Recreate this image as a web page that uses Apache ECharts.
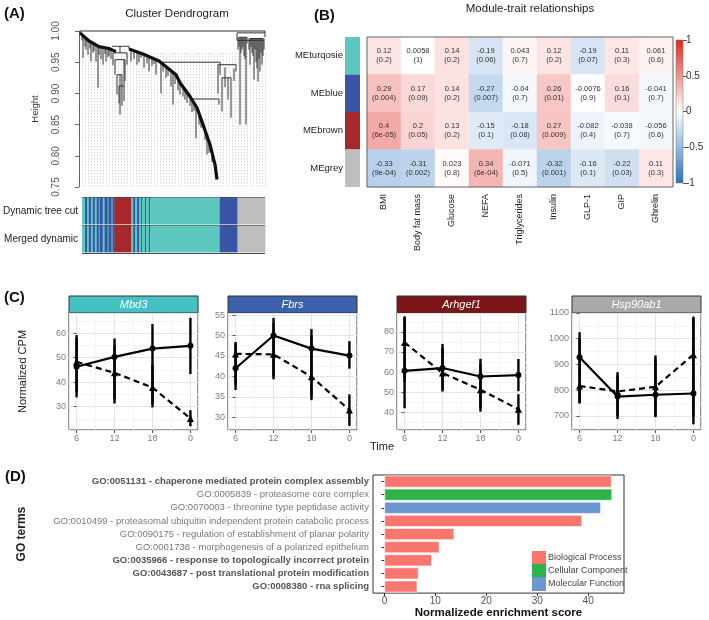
<!DOCTYPE html>
<html><head><meta charset="utf-8">
<script src="https://cdn.jsdelivr.net/npm/echarts@6/dist/echarts.min.js"></script>
<style>html,body{margin:0;padding:0;background:#fff}#c{width:709px;height:620px}</style>
</head><body><div id="c"></div>
<script>
// ================= Panel A: dendrogram (leaf position units 0..186, height) =================
const dendroSpines = [
  [[1,0.997],[10,0.984],[20,0.975],[30,0.972],[37,0.967]],
  [[50,0.971],[64,0.963],[80,0.952],[97,0.930],[101,0.917],[111,0.895],[118,0.877],[124,0.850],[131,0.818],[136,0.786],[138,0.762]]
];
// [x1, x2, height]
const dendroLinks = [
  [1,186,1.0],[33,50,0.9755],[34,48,0.965],[36,46,0.954],[38,43,0.930],[40,45,0.912],
  [80,141,0.950],[139,157,0.946],[143,152,0.925],[112,140,0.891],[158,186,0.997],[160,168,0.990],[171,184,0.988],[158,185,0.985]
];
// [x, topHeight, bottomHeight]
const dendroDrops = [
  [1,1.0,0.997],[186,1.0,0.997],
  [3,0.994,0.985],[4,0.993,0.957],[6,0.990,0.975],[7,0.989,0.970],[9,0.986,0.962],[11,0.983,0.972],[12,0.983,0.951],
  [14,0.981,0.965],[15,0.980,0.968],[17,0.978,0.951],[19,0.976,0.909],[20,0.975,0.962],
  [22,0.975,0.955],[24,0.974,0.946],[26,0.973,0.963],[27,0.973,0.951],[29,0.972,0.958],[30,0.972,0.960],[32,0.971,0.955],
  [41,0.9755,0.965],[34,0.965,0.945],[48,0.965,0.946],[36,0.954,0.930],[38,0.930,0.898],[41,0.930,0.866],
  [43,0.930,0.880],[40,0.912,0.884],[45,0.954,0.888],[46,0.954,0.920],
  [50,0.9755,0.971],[52,0.970,0.951],[55,0.968,0.955],[58,0.966,0.946],[60,0.965,0.950],[62,0.964,0.957],
  [65,0.962,0.941],[68,0.961,0.948],[70,0.959,0.935],[73,0.957,0.944],[75,0.956,0.947],[77,0.954,0.930],
  [82,0.950,0.900],[84,0.948,0.935],[87,0.945,0.925],[89,0.942,0.928],[92,0.939,0.911],[94,0.935,0.882],
  [96,0.932,0.915],[99,0.925,0.905],[101,0.917,0.898],[104,0.911,0.895],[106,0.905,0.890],[108,0.902,0.885],
  [111,0.895,0.880],[113,0.891,0.870],[115,0.885,0.872],[117,0.879,0.828],[120,0.870,0.850],[122,0.862,0.845],
  [126,0.843,0.825],[128,0.834,0.802],[130,0.823,0.805],[133,0.806,0.790],[140,0.891,0.882],
  [141,0.950,0.946],[139,0.946,0.900],[141,0.946,0.930],[143,0.925,0.871],[146,0.942,0.910],[149,0.925,0.890],
  [152,0.925,0.861],[155,0.940,0.920],[157,0.946,0.935],
  [158,0.997,0.985],[159,0.990,0.970],[160,0.990,0.975],[161,0.990,0.850],[162,0.990,0.965],[163,0.990,0.970],
  [164,0.990,0.975],[165,0.990,0.960],[166,0.990,0.955],[167,0.990,0.850],[168,0.990,0.980],[170,0.988,0.970],
  [171,0.988,0.946],[172,0.988,0.975],[173,0.988,0.965],[174,0.988,0.960],[175,0.988,0.922],[176,0.988,0.970],
  [177,0.988,0.950],[178,0.988,0.940],[179,0.988,0.919],[180,0.988,0.955],[181,0.988,0.935],[182,0.988,0.965],
  [183,0.988,0.946],[184,0.988,0.960],[185,0.988,0.970],[186,0.997,0.990]
];
// module colour bar segments [start, end, colourIndex]  0=turquoise 1=blue 2=brown 3=grey
const stripeSegments = [
  [0,3,0],[3,5,1],[5,7,0],[7,9,1],[9,11,0],[11,13,1],[13,15,0],[15,17,1],[17,18,0],[18,21,1],[21,23,0],[23,26,1],[26,27,0],[27,30,1],[30,31,0],[31,33,1],
  [33,50,2],
  [50,52,0],[52,54,1],[54,56,0],[56,58,1],[58,60,0],[60,61,1],[61,64,0],[64,65,1],[65,68,0],[68,69,1],[69,71,0],
  [71,140,0],[140,158,1],[158,186,3]
];
const stripeRows = ['Dynamic tree cut','Merged dynamic'];
const moduleHex = ['#5ec8c0','#3a54a6','#a6282a','#bebebe'];

// ================= Panel B: module-trait heatmap =================
const traits = ['BMI','Body fat mass','Glucose','NEFA','Triglycerides','Insulin','GLP-1','GIP','Ghrelin'];
const modules = ['MEturqosie','MEblue','MEbrown','MEgrey'];
const moduleColors = ['#5ec8c0','#3a54a6','#a6282a','#bebebe'];
const corTurquoise = [0.12, 0.0058, 0.14, -0.19, 0.043, 0.12, -0.19, 0.11, 0.061];
const corBlue      = [0.29, 0.17, 0.14, -0.27, -0.04, 0.26, -0.0076, 0.16, -0.041];
const corBrown     = [0.4, 0.2, 0.13, -0.15, -0.18, 0.27, -0.082, -0.038, -0.056];
const corGrey      = [-0.33, -0.31, 0.023, 0.34, -0.071, -0.32, -0.16, -0.22, 0.11];
const pTurquoise = ['0.2','1','0.2','0.06','0.7','0.2','0.07','0.3','0.6'];
const pBlue      = ['0.004','0.09','0.2','0.007','0.7','0.01','0.9','0.1','0.7'];
const pBrown     = ['6e-05','0.05','0.2','0.1','0.08','0.009','0.4','0.7','0.6'];
const pGrey      = ['9e-04','0.002','0.8','6e-04','0.5','0.001','0.1','0.03','0.3'];
const colorbarRange = [-1, 1];

// ================= Panel C: expression profiles =================
const timeLabels = ['6','12','18','0'];
const genes = ['Mbd3','Fbrs','Arhgef1','Hsp90ab1'];
const mbd3Solid = [46.3, 50.3, 53.7, 54.8];
const mbd3SolidErr = [[33.8,59.2],[31.3,57.8],[29.7,63.7],[43.3,66.2]];
const mbd3Dashed = [48.3, 43.8, 37.8, 25.2];
const mbd3DashedErr = [[36,58],[33,55],[31,47],[22,28.6]];
const fbrsSolid = [42.0, 50.0, 46.8, 45.1];
const fbrsSolidErr = [[36.7,48.4],[39.3,54.3],[34.2,51.6],[41.9,48.6]];
const fbrsDashed = [45.5, 45.4, 39.9, 31.8];
const fbrsDashedErr = [[38,48],[40,53],[35,50],[27.9,35.6]];
const arhgef1Solid = [60.6, 62.0, 57.8, 58.5];
const arhgef1SolidErr = [[42,87.7],[50.3,74],[40.3,66.6],[50.5,66.5]];
const arhgef1Dashed = [74.7, 59.5, 51.2, 41.5];
const arhgef1DashedErr = [[55,87],[51,72],[42,64],[33.8,49]];
const hspSolid = [928, 775, 782, 787];
const hspSolidErr = [[748,1025],[688,870],[695,935],[667,1086]];
const hspDashed = [816, 795, 813, 938];
const hspDashedErr = [[750,1000],[700,860],[700,920],[700,1080]];
const stripColors = ['#45c1c3','#3d62ad','#7d1518','#a9a9a9'];

// ================= Panel D: GO enrichment =================
const goTerms = [
  'GO:0051131 - chaperone mediated protein complex assembly',
  'GO:0005839 - proteasome core complex',
  'GO:0070003 - threonine type peptidase activity',
  'GO:0010499 - proteasomal ubiquitin independent protein catabolic process',
  'GO:0090175 - regulation of establishment of planar polarity',
  'GO:0001738 - morphogenesis of a polarized epithelium',
  'GO:0035966 - response to topologically incorrect protein',
  'GO:0043687 - post translational protein modification',
  'GO:0008380 - rna splicing'
];
const goScores = [44.6, 44.7, 42.5, 38.8, 13.7, 10.8, 9.3, 6.7, 6.45];
const goCategory = ['Biological Process','Cellular Component','Molecular Function','Biological Process','Biological Process','Biological Process','Biological Process','Biological Process','Biological Process'];
const goCategoryNames = ['Biological Process','Cellular Component','Molecular Function'];
const goCategoryColors = ['#F8766D','#2db34a','#6b96d0'];
const goBoldTerms = [0, 6, 7, 8];

// ================= build =================
const FONT = '"Liberation Sans", Arial, sans-serif';
const chart = echarts.init(document.getElementById('c'), null, {renderer:'canvas', width:709, height:620});

const grids = [], xAxes = [], yAxes = [], series = [];
const hidden = {show:false};

// --- grid 0: dendrogram
grids.push({left:79, top:31, width:186, height:156, show:false});
xAxes.push({type:'value', gridIndex:0, min:0, max:186, show:false});
yAxes.push({type:'value', gridIndex:0, min:0.75, max:1.0, interval:0.05, offset:11,
  name:'Height', nameLocation:'middle', nameGap:28, nameRotate:90,
  nameTextStyle:{fontFamily:FONT, fontSize:9.5, color:'#333'},
  axisLine:{show:true, lineStyle:{color:'#444', width:0.8}},
  axisTick:{show:true, length:4, lineStyle:{color:'#444', width:0.8}},
  axisLabel:{rotate:90, fontFamily:FONT, fontSize:10, color:'#555', margin:7, formatter:v=>v.toFixed(2)},
  splitLine:{show:false}});
// --- grid 1: leaf guides
grids.push({left:79, top:53, width:186, height:134, show:false});
xAxes.push({type:'value', gridIndex:1, min:0, max:186, interval:3, axisLine:hidden, axisTick:hidden, axisLabel:hidden,
  splitLine:{show:true, lineStyle:{color:'#cfcfcf', width:0.8, type:[1.5,1.5]}}});
yAxes.push({type:'value', gridIndex:1, min:0, max:1, show:false});
// --- grid 2: colour bars
grids.push({left:79, top:197, width:186, height:56, show:false});
xAxes.push({type:'value', gridIndex:2, min:0, max:186, show:false});
yAxes.push({type:'category', gridIndex:2, data:stripeRows, inverse:true,
  axisLine:hidden, axisTick:hidden,
  axisLabel:{fontFamily:FONT, fontSize:10, color:'#222', margin:4},
  splitLine:{show:true, lineStyle:{color:'rgba(30,30,30,0.8)', width:1}}});
// --- grid 3: module side strip
grids.push({left:345, top:37, width:15, height:150, show:false});
xAxes.push({type:'category', gridIndex:3, data:['m'], show:false});
yAxes.push({type:'category', gridIndex:3, data:modules, inverse:true, show:false});
// --- grid 4: heatmap
grids.push({left:367, top:37, width:306, height:150, show:true, borderColor:'#666', borderWidth:1, backgroundColor:'transparent', z:3});
xAxes.push({type:'category', gridIndex:4, data:traits, axisLine:hidden, axisTick:hidden, splitLine:hidden,
  axisLabel:{rotate:90, interval:0, fontFamily:FONT, fontSize:9, color:'#222', margin:7}});
yAxes.push({type:'category', gridIndex:4, data:modules, inverse:true, axisLine:hidden, axisTick:hidden, splitLine:hidden,
  axisLabel:{fontFamily:FONT, fontSize:9.5, color:'#222', margin:24}});
// --- grid 5: colour bar
grids.push({left:676, top:40, width:7, height:143, show:false});
xAxes.push({type:'category', gridIndex:5, data:['c'], show:false});
yAxes.push({type:'value', gridIndex:5, min:colorbarRange[0], max:colorbarRange[1], interval:0.5, position:'right',
  axisLine:hidden, splitLine:hidden,
  axisTick:{show:true, length:4, lineStyle:{color:'#333', width:0.8}},
  axisLabel:{fontFamily:FONT, fontSize:10, color:'#333', margin:3}});

// --- grids 6..9: expression panels
const cLefts = [69, 228, 397, 572];
const cRanges = [[20.5,68.2],[26.9,55.5],[31.2,89.35],[645,1100]];
const cShowMax = [false, false, false, true];
const cSolid = [mbd3Solid, fbrsSolid, arhgef1Solid, hspSolid];
const cSolidErr = [mbd3SolidErr, fbrsSolidErr, arhgef1SolidErr, hspSolidErr];
const cDashed = [mbd3Dashed, fbrsDashed, arhgef1Dashed, hspDashed];
const cDashedErr = [mbd3DashedErr, fbrsDashedErr, arhgef1DashedErr, hspDashedErr];
const errRender = (params, api) => {
  const a = api.coord([api.value(0), api.value(1)]);
  const b = api.coord([api.value(0), api.value(2)]);
  return {type:'line', shape:{x1:a[0], y1:a[1], x2:b[0], y2:b[1]}, style:{stroke:'#000', lineWidth:2.4}};
};
for (let k = 0; k < 4; k++) {
  const gi = 6 + k;
  grids.push({left:cLefts[k], top:313, width:129, height:117, show:true, borderColor:'#333', borderWidth:1, backgroundColor:'transparent'});
  xAxes.push({type:'value', gridIndex:gi, min:-0.2, max:3.2, splitNumber:3,
    axisLine:hidden,
    axisTick:{show:true, length:3, lineStyle:{color:'#555'}},
    axisLabel:{fontFamily:FONT, fontSize:9, color:'#7f7f7f', margin:4, showMinLabel:false, showMaxLabel:false,
      formatter:v => (Number.isInteger(v) && v >= 0 && v <= 3) ? timeLabels[v] : ''},
    splitLine:{show:true, lineStyle:{color:'#e4e4e4', width:1}},
    minorTick:{show:false, splitNumber:2},
    minorSplitLine:{show:true, lineStyle:{color:'#f2f2f2', width:0.8}}});
  yAxes.push({type:'value', gridIndex:gi, min:cRanges[k][0], max:cRanges[k][1], splitNumber:5,
    name: k === 0 ? 'Normalized CPM' : '', nameLocation:'middle', nameRotate:90, nameGap:41,
    nameTextStyle:{fontFamily:FONT, fontSize:11, color:'#222'},
    axisLine:hidden,
    axisTick:{show:true, length:3, lineStyle:{color:'#555'}},
    axisLabel:{fontFamily:FONT, fontSize:9, color:'#7f7f7f', margin:3, showMinLabel:false, showMaxLabel:cShowMax[k],
      formatter:v => String(v)},
    splitLine:{show:true, lineStyle:{color:'#e4e4e4', width:1}},
    minorTick:{show:false, splitNumber:2},
    minorSplitLine:{show:true, lineStyle:{color:'#f2f2f2', width:0.8}}});
  series.push({type:'custom', xAxisIndex:gi, yAxisIndex:gi, renderItem:errRender, silent:true, z:3,
    data:cSolidErr[k].map((e,i)=>[i,e[0],e[1]])});
  series.push({type:'custom', xAxisIndex:gi, yAxisIndex:gi, renderItem:errRender, silent:true, z:3,
    data:cDashedErr[k].map((e,i)=>[i,e[0],e[1]])});
  series.push({type:'line', xAxisIndex:gi, yAxisIndex:gi, data:cSolid[k].map((v,i)=>[i,v]), z:4,
    symbol:'circle', symbolSize:6, itemStyle:{color:'#000'}, lineStyle:{color:'#000', width:2.2}, silent:true, animation:false});
  series.push({type:'line', xAxisIndex:gi, yAxisIndex:gi, data:cDashed[k].map((v,i)=>[i,v]), z:4,
    symbol:'triangle', symbolSize:7, itemStyle:{color:'#000'}, lineStyle:{color:'#000', width:2.2, type:[6,4]}, silent:true, animation:false});
}

// --- grid 10: GO bars
grids.push({left:373, top:475, width:251, height:120, show:true, borderColor:'#333', borderWidth:1, backgroundColor:'transparent'});
xAxes.push({type:'value', gridIndex:10, min:-2.24, max:47.04, splitNumber:5,
  name:'Normalizede enrichment score', nameLocation:'middle', nameGap:13,
  nameTextStyle:{fontFamily:FONT, fontSize:11.5, fontWeight:'bold', color:'#111', verticalAlign:'top'},
  axisLine:hidden, splitLine:hidden,
  axisTick:{show:true, length:3, lineStyle:{color:'#333'}},
  axisLabel:{fontFamily:FONT, fontSize:10, color:'#555', margin:3, showMinLabel:false, showMaxLabel:false}});
yAxes.push({type:'category', gridIndex:10, data:goTerms, inverse:true,
  name:'GO terms', nameLocation:'middle', nameRotate:90, nameGap:345,
  nameTextStyle:{fontFamily:FONT, fontSize:12, fontWeight:'bold', color:'#222'},
  axisLine:hidden, splitLine:hidden,
  axisTick:{show:true, length:3, alignWithLabel:true, lineStyle:{color:'#333'}},
  axisLabel:{interval:0, margin:4, fontFamily:FONT, fontSize:9.5,
    formatter:(v,i) => goBoldTerms.includes(i) ? '{b|' + v + '}' : '{n|' + v + '}',
    rich:{b:{fontFamily:FONT, fontSize:9.5, fontWeight:'bold', color:'#555'}, n:{fontFamily:FONT, fontSize:9.5, color:'#7a7a7a'}}}});
goCategoryNames.forEach((cat, ci) => {
  series.push({type:'bar', name:cat, xAxisIndex:10, yAxisIndex:10, stack:'go', barCategoryGap:'10%',
    itemStyle:{color:goCategoryColors[ci], borderColor:'#fff', borderWidth:0.6},
    data:goScores.map((v,i)=> goCategory[i] === cat ? v : null), silent:true, animation:false});
});

// --- dendrogram series
series.push({type:'custom', xAxisIndex:0, yAxisIndex:0, silent:true, z:5,
  data:dendroDrops, renderItem:(p, api) => {
    const a = api.coord([api.value(0), api.value(1)]);
    const b = api.coord([api.value(0), api.value(2)]);
    return {type:'line', shape:{x1:a[0], y1:a[1], x2:b[0], y2:b[1]}, style:{stroke:'#333', lineWidth:1}};
  }});
series.push({type:'custom', xAxisIndex:0, yAxisIndex:0, silent:true, z:5,
  data:dendroLinks, renderItem:(p, api) => {
    const a = api.coord([api.value(0), api.value(2)]);
    const b = api.coord([api.value(1), api.value(2)]);
    return {type:'line', shape:{x1:a[0], y1:a[1], x2:b[0], y2:b[1]}, style:{stroke:'#333', lineWidth:1}};
  }});
series.push({type:'custom', xAxisIndex:0, yAxisIndex:0, silent:true, z:6,
  data:dendroSpines.map((c,i)=>[c[0][0], c[0][1]]), renderItem:(p, api) => {
    const pts = dendroSpines[p.dataIndex].map(q => api.coord(q));
    return {type:'polyline', shape:{points:pts}, style:{stroke:'#111', lineWidth:3.2, fill:null, lineJoin:'round'}};
  }});
// --- colour bars (1px gap at row edges lets the row separators show)
const stripeData = [];
stripeRows.forEach((r, ri) => stripeSegments.forEach(s => stripeData.push([s[0], s[1], ri, s[2]])));
series.push({type:'custom', xAxisIndex:2, yAxisIndex:2, silent:true, z:1, data:stripeData,
  renderItem:(p, api) => {
    const a = api.coord([api.value(0), api.value(2)]);
    const b = api.coord([api.value(1), api.value(2)]);
    const h = api.size([0, 1])[1];
    return {type:'rect', shape:{x:a[0], y:a[1]-h/2+0.6, width:b[0]-a[0]+0.4, height:h-1.2}, style:{fill:moduleHex[api.value(3)]}};
  }});
// --- module side strip
series.push({type:'custom', xAxisIndex:3, yAxisIndex:3, silent:true, data:modules.map((m,i)=>[0,i]),
  renderItem:(p, api) => {
    const c = api.coord([0, api.value(1)]);
    const s = api.size([1, 1]);
    return {type:'rect', shape:{x:c[0]-s[0]/2, y:c[1]-s[1]/2, width:s[0], height:s[1]}, style:{fill:moduleColors[p.dataIndex]}};
  }});
// --- heatmap
const corRows = [corTurquoise, corBlue, corBrown, corGrey];
const pRows = [pTurquoise, pBlue, pBrown, pGrey];
const heatData = [];
corRows.forEach((row, yi) => row.forEach((v, xi) => heatData.push([xi, yi, v])));
const heatIndex = series.length;
series.push({type:'heatmap', xAxisIndex:4, yAxisIndex:4, data:heatData, silent:true, z:2,
  label:{show:true, fontFamily:FONT, fontSize:7.5, color:'#333', lineHeight:9,
    formatter:p => String(corRows[p.value[1]][p.value[0]]) + '\n(' + pRows[p.value[1]][p.value[0]] + ')'}});
// --- colour bar gradient
const RED = '#e0281e', WHITE = '#ffffff', BLUE = '#2a72c0';
series.push({type:'custom', xAxisIndex:5, yAxisIndex:5, silent:true, data:[[0, colorbarRange[0], colorbarRange[1]]],
  renderItem:(p, api) => {
    const top = api.coord([0, api.value(2)]);
    const bot = api.coord([0, api.value(1)]);
    const w = api.size([1, 0])[0];
    return {type:'rect', shape:{x:top[0]-w/2, y:top[1], width:w, height:bot[1]-top[1]},
      style:{fill:new echarts.graphic.LinearGradient(0,0,0,1,[{offset:0,color:RED},{offset:0.5,color:WHITE},{offset:1,color:BLUE}]), stroke:'#777', lineWidth:0.5}};
  }});

// --- decorations
const graphics = [];
const letter = (t, x, y) => ({type:'text', x, y, style:{text:t, font:'bold 15px ' + FONT, fill:'#111', align:'left', verticalAlign:'middle', textAlign:'left', textVerticalAlign:'middle'}});
graphics.push(letter('(A)', 4, 14), letter('(B)', 314, 16), letter('(C)', 4, 298), letter('(D)', 5, 477));
genes.forEach((g, k) => {
  graphics.push({type:'rect', shape:{x:cLefts[k], y:296, width:129, height:17}, style:{fill:stripColors[k], stroke:'#333', lineWidth:1}});
  graphics.push({type:'text', x:cLefts[k] + 64.5, y:304.5, style:{text:g, font:'italic 11px ' + FONT, fill:'#fff', align:'center', verticalAlign:'middle', textAlign:'center', textVerticalAlign:'middle'}});
});
graphics.push({type:'text', x:370, y:447, style:{text:'Time', font:'11px ' + FONT, fill:'#222', align:'left', verticalAlign:'middle', textAlign:'left', textVerticalAlign:'middle'}});

chart.setOption({
  animation:false,
  textStyle:{fontFamily:FONT},
  title:[
    {text:'Cluster Dendrogram', left:172, top:3, textAlign:'center', textStyle:{fontFamily:FONT, fontSize:11.5, fontWeight:'normal', color:'#222'}},
    {text:'Module-trait relationships', left:525, top:-2, textAlign:'center', textStyle:{fontFamily:FONT, fontSize:11.5, fontWeight:'normal', color:'#222'}}
  ],
  grid:grids, xAxis:xAxes, yAxis:yAxes, series:series,
  visualMap:{show:false, type:'continuous', seriesIndex:heatIndex, dimension:2, min:-1, max:1, inRange:{color:[BLUE, WHITE, RED]}},
  legend:{data:goCategoryNames, orient:'vertical', left:532, top:551, padding:0, itemWidth:14, itemHeight:14, itemGap:-1, icon:'rect',
    selectedMode:false, itemStyle:{borderWidth:0},
    textStyle:{fontFamily:FONT, fontSize:9, color:'#444', lineHeight:12, padding:[0,0,0,-3]}},
  graphic:graphics
});
</script></body></html>
